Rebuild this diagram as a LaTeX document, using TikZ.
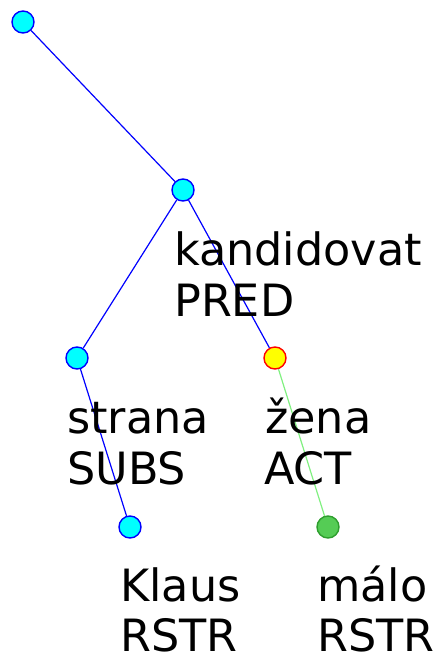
\documentclass[tikz,border=0pt]{standalone}
\usepackage{fontspec}
\setmainfont{DejaVu Sans}
\definecolor{nodecyan}{HTML}{00FFFF}
\definecolor{edgeblue}{HTML}{0000FF}
\definecolor{hlyellow}{HTML}{FFFF00}
\definecolor{hlred}{HTML}{FF0000}
\definecolor{leafgreen}{HTML}{55CC55}
\definecolor{leafgreenline}{HTML}{2E9E2E}
\definecolor{edgegreen}{HTML}{80F080}
\tikzset{
  tnode/.style={circle, minimum size=22pt, inner sep=0pt, line width=1.4pt},
  plain/.style={tnode, draw=edgeblue, fill=nodecyan},
  focus/.style={tnode, draw=hlred, fill=hlyellow},
  leaf/.style={tnode, draw=leafgreenline, fill=leafgreen},
  blueedge/.style={draw=edgeblue, line width=1.2pt},
  greenedge/.style={draw=edgegreen, line width=1.2pt},
  lbl/.style={anchor=base west, inner sep=0pt, text=black,
    font=\fontsize{44.5}{51}\selectfont},
}
\begin{document}
\begin{tikzpicture}[x=1pt, y=-1pt]
  \useasboundingbox (0,0) rectangle (435,657);

  % tree nodes
  \node[plain] (root) at (23,22) {};
  \node[plain] (kand) at (183,190) {};
  \node[plain] (stra) at (77,358) {};
  \node[focus] (zena) at (275,358) {};
  \node[plain] (klau) at (130,527) {};
  \node[leaf]  (malo) at (328,527) {};

  % edges
  \path[blueedge] (root) -- (kand);
  \path[blueedge] (kand) -- (stra);
  \path[blueedge] (kand) -- (zena);
  \path[blueedge] (stra) -- (klau);
  \path[greenedge] (zena) -- (malo);

  % labels: lemma and functor
  \node[lbl] (kandw) at (174,265) {kandidovat};
  \node[lbl] (kandf) at (174,316) {PRED};
  \node[lbl] (straw) at (67,433) {strana};
  \node[lbl] (straf) at (67,484) {SUBS};
  \node[lbl] (zenaw) at (265,433) {žena};
  \node[lbl] (zenaf) at (264,484) {ACT};
  \node[lbl] (klauw) at (120,601) {Klaus};
  \node[lbl] (klauf) at (120,651) {RSTR};
  \node[lbl] (malow) at (317,601) {málo};
  \node[lbl] (malof) at (317,651) {RSTR};
\end{tikzpicture}
\end{document}
